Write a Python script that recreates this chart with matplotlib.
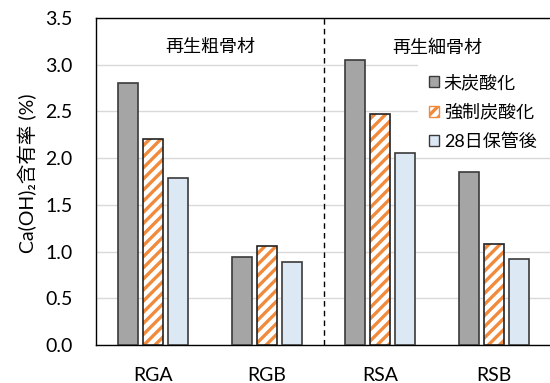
import matplotlib
matplotlib.use("Agg")
import matplotlib.pyplot as plt
import numpy as np
from matplotlib.patches import Patch, Rectangle

plt.rcParams['font.family'] = ['Lato', 'Noto Sans CJK JP', 'DejaVu Sans']
plt.rcParams['hatch.linewidth'] = 2.4

categories = ["RGA", "RGB", "RSA", "RSB"]
series_names = ["未炭酸化", "強制炭酸化", "28日保管後"]
uncarbonated = [2.80, 0.94, 3.05, 1.85]
forced = [2.21, 1.06, 2.47, 1.08]
stored28 = [1.79, 0.89, 2.06, 0.92]
group_labels = ["再生粗骨材", "再生細骨材"]
yticks = [0.0, 0.5, 1.0, 1.5, 2.0, 2.5, 3.0, 3.5]

W, H = 550, 383
fig = plt.figure(figsize=(W / 100, H / 100), dpi=100)
ax = fig.add_axes([96 / W, 1 - 345 / H, 1 - 96 / W + 0.002, (345 - 18) / H])

x = np.arange(len(categories))
w = 0.176
off = 0.22
edge = "#3a3a3a"
ax.bar(x - off, uncarbonated, w, color="#a5a5a5", edgecolor=edge, linewidth=1.2, zorder=3)
ax.bar(x, forced, w, color="white", edgecolor="#f08a3c", hatch="///", linewidth=0, zorder=3)
ax.bar(x, forced, w, color="none", edgecolor="#222222", linewidth=1.2, zorder=4)
ax.bar(x + off, stored28, w, color="#dde8f5", edgecolor=edge, linewidth=1.2, zorder=3)

ax.set_xlim(-0.5, 3.5)
ax.set_ylim(0, 3.5)
ax.set_yticks(yticks)
ax.set_yticklabels([f"{v:.1f}" for v in yticks], fontsize=14)
ax.set_xticks(x)
ax.set_xticklabels(categories, fontsize=14)
ax.tick_params(axis='x', length=0, pad=16)
ax.tick_params(axis='y', length=0, pad=17)
ax.grid(axis='y', color="#d9d9d9", linewidth=1.0, zorder=0)
for s in ["left", "top", "bottom"]:
    ax.spines[s].set_color("black")
    ax.spines[s].set_linewidth(1.0)
ax.spines["right"].set_visible(False)

ax.axvline(1.5, color="black", linestyle=(0, (4, 3)), linewidth=1.0, zorder=5)
ax.text(0.5, 3.19, group_labels[0], ha="center", va="center", fontsize=13)
ax.text(2.5, 3.19, group_labels[1], ha="center", va="center", fontsize=13)

fig.text(27 / W, 1 - 173 / H, "Ca(OH)₂含有率 (%)", rotation=90,
         ha="center", va="center", fontsize=14)

# white background of the legend area
ax.add_patch(Rectangle((418 / W, 1 - 152 / H), (W - 418) / W, 94 / H,
                       transform=fig.transFigure, facecolor="white", edgecolor="none",
                       zorder=2, clip_on=False))

handles = [
    Patch(facecolor="#a5a5a5", edgecolor=edge, linewidth=1.0),
    Patch(facecolor="white", edgecolor="#f08a3c", hatch="///", linewidth=1.0),
    Patch(facecolor="#dde8f5", edgecolor=edge, linewidth=1.0),
]
leg = fig.legend(handles, series_names, loc="upper left",
                 bbox_to_anchor=(424 / W, 1 - 69 / H),
                 frameon=False, fontsize=13, handlelength=0.55, handleheight=0.55,
                 handletextpad=0.25, labelspacing=0.72, borderpad=0.3, borderaxespad=0)
leg.set_zorder(6)

fig.savefig("out.png", dpi=100)
